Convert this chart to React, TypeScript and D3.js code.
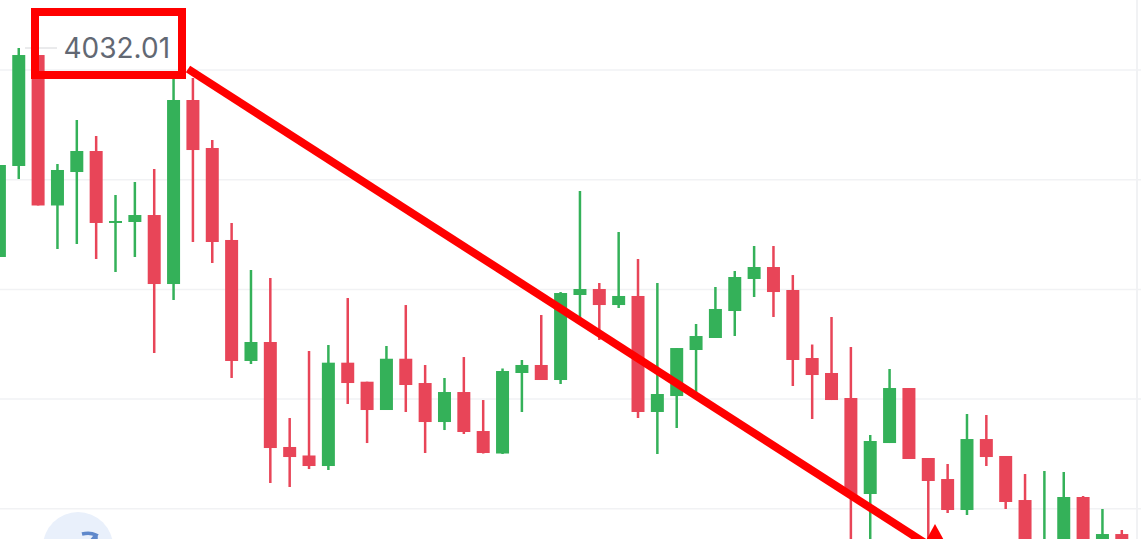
import * as d3 from "d3";
import React, { useEffect, useRef } from "react";

const opens = [
  3993.91, 4010.5, 4030.73, 4003.3, 4009.4, 4013.23, 4000.11, 4000.29, 4001.56, 3988.98,
  4022.53, 4013.78, 3997.01, 3974.95, 3978.41, 3959.27, 3957.72, 3955.8, 3974.64, 3971.17,
  3966.01, 3975.36, 3970.93, 3963.82, 3969.29, 3962.18, 3958.08, 3972.76, 3974.22, 3971.48,
  3986.98, 3988.07, 3985.15, 3986.8, 3965.65, 3968.56, 3976.95, 3979.14, 3984.06, 3989.9,
  3992.08, 3987.89, 3975.49, 3972.76, 3968.2, 3950.7, 3959.99, 3970.02, 3957.26, 3953.43,
  3947.78, 3960.72, 3957.63, 3949.6, 3936.84, 3938.66, 3950.15, 3938.66, 3943.4,
];
const closes = [
  4010.68, 4030.73, 4003.3, 4009.77, 4013.23, 4000.11, 4000.47, 4001.56, 3988.98, 4022.53,
  4013.41, 3996.64, 3974.95, 3978.41, 3959.08, 3957.44, 3955.8, 3974.64, 3970.93, 3966.01,
  3975.36, 3970.57, 3963.82, 3969.29, 3962.0, 3958.17, 3973.12, 3974.22, 3971.48, 3987.34,
  3988.07, 3985.15, 3986.8, 3965.65, 3968.93, 3977.31, 3979.5, 3984.43, 3990.26, 3992.08,
  3987.52, 3975.13, 3972.39, 3967.83, 3950.51, 3960.36, 3970.02, 3957.08, 3953.07, 3947.78,
  3960.72, 3957.44, 3949.24, 3936.84, 3941.4, 3950.15, 3938.66, 3943.4, 3938.66,
];
const highs = [
  4010.68, 4032.01, 4030.73, 4010.86, 4018.88, 4015.97, 4005.21, 4007.58, 4009.95, 4027.09,
  4026.54, 4015.24, 4000.11, 3991.54, 3990.08, 3964.55, 3976.77, 3977.86, 3986.43, 3971.17,
  3977.68, 3985.15, 3974.22, 3971.85, 3975.67, 3967.83, 3973.58, 3975.13, 3983.33, 3987.52,
  4005.94, 3989.17, 3998.46, 3993.54, 3989.17, 3977.31, 3981.69, 3988.44, 3991.35, 3995.91,
  3995.91, 3990.62, 3977.95, 3982.97, 3977.5, 3961.45, 3973.49, 3970.02, 3957.26, 3956.17,
  3965.28, 3965.1, 3957.63, 3954.34, 3954.89, 3954.71, 3950.33, 3947.96, 3944.13,
];
const lows = [
  3993.91, 4008.13, 4003.3, 3995.36, 3996.28, 3993.54, 3991.17, 3993.91, 3976.4, 3986.07,
  3996.64, 3992.81, 3971.85, 3974.4, 3952.7, 3951.97, 3955.25, 3955.07, 3967.11, 3959.99,
  3966.01, 3965.65, 3958.17, 3962.36, 3961.64, 3958.08, 3957.99, 3965.65, 3971.48, 3970.75,
  3982.42, 3978.77, 3984.61, 3964.55, 3957.99, 3962.73, 3969.11, 3979.14, 3979.5, 3986.61,
  3982.97, 3970.39, 3964.37, 3967.83, 3938.66, 3940.49, 3959.99, 3957.08, 3938.66, 3947.23,
  3946.87, 3955.8, 3947.96, 3936.84, 3935.93, 3936.84, 3938.66, 3938.66, 3938.66,
];
const gridPrices = [4028, 4008, 3988, 3968, 3948];
const lastPriceLabel = "4032.01";
const lastPrice = 4032.01;

const WIDTH = 1148;
const HEIGHT = 539;
const UP = "#34b159";
const DOWN = "#e84558";
const MARK = "#ff0000";

export default function App() {
  const ref = useRef<SVGSVGElement | null>(null);

  useEffect(() => {
    const svg = d3.select(ref.current);
    svg.selectAll("*").remove();

    const x = d3.scaleLinear().domain([0, opens.length - 1]).range([-0.6, 1121.8]);
    const y = d3.scaleLinear().domain([4028, 3948]).range([70, 508.8]);
    const bodyW = 13;

    const candles = opens.map((open, i) => ({
      i,
      open,
      close: closes[i],
      high: highs[i],
      low: lows[i],
    }));
    const colour = (d: { open: number; close: number }) => (d.close >= d.open ? UP : DOWN);

    // grid
    svg
      .append("g")
      .selectAll("line")
      .data(gridPrices)
      .enter()
      .append("line")
      .attr("x1", 0)
      .attr("x2", 1141)
      .attr("y1", (d) => y(d))
      .attr("y2", (d) => y(d))
      .attr("stroke", "#f1f2f4")
      .attr("stroke-width", 1.5);

    svg
      .append("line")
      .attr("x1", 1137)
      .attr("x2", 1137)
      .attr("y1", 0)
      .attr("y2", HEIGHT)
      .attr("stroke", "#f1f2f4")
      .attr("stroke-width", 2);

    // floating button at the bottom left
    svg.append("circle").attr("cx", 78).attr("cy", 547).attr("r", 35).attr("fill", "#e9f0fb");
    svg
      .append("path")
      .attr("d", "M82 534 Q90 532 96 535 L84 550 M96 535 Q96 540 96 546")
      .attr("fill", "none")
      .attr("stroke", "#5f88cb")
      .attr("stroke-width", 3.5);

    // wicks
    svg
      .append("g")
      .selectAll("line")
      .data(candles)
      .enter()
      .append("line")
      .attr("x1", (d) => x(d.i))
      .attr("x2", (d) => x(d.i))
      .attr("y1", (d) => y(d.high))
      .attr("y2", (d) => y(d.low))
      .attr("stroke", colour)
      .attr("stroke-width", 2.5);

    // bodies
    svg
      .append("g")
      .selectAll("rect")
      .data(candles)
      .enter()
      .append("rect")
      .attr("x", (d) => x(d.i) - bodyW / 2)
      .attr("y", (d) => y(Math.max(d.open, d.close)))
      .attr("width", bodyW)
      .attr("height", (d) => Math.max(1.5, Math.abs(y(d.open) - y(d.close))))
      .attr("fill", colour);

    // last price
    svg
      .append("line")
      .attr("x1", 25)
      .attr("x2", 57)
      .attr("y1", y(lastPrice))
      .attr("y2", y(lastPrice))
      .attr("stroke", "#e3e4e6")
      .attr("stroke-width", 1.5);
    svg
      .append("text")
      .attr("x", 63.5)
      .attr("y", 58)
      .attr("font-family", "Inter")
      .attr("font-size", 28)
      .attr("fill", "#626873")
      .text(lastPriceLabel);

    // red annotation on top
    svg
      .append("rect")
      .attr("x", 35)
      .attr("y", 12)
      .attr("width", 147)
      .attr("height", 63)
      .attr("fill", "none")
      .attr("stroke", MARK)
      .attr("stroke-width", 8);
    svg
      .append("line")
      .attr("x1", 188)
      .attr("y1", 69)
      .attr("x2", 925)
      .attr("y2", 543)
      .attr("stroke", MARK)
      .attr("stroke-width", 8);
    svg
      .append("path")
      .attr("d", "M935 524 L951 553 L919 553 Z")
      .attr("fill", MARK);
  }, []);

  return (
    <svg
      ref={ref}
      width={WIDTH}
      height={HEIGHT}
      viewBox={`0 0 ${WIDTH} ${HEIGHT}`}
      style={{ position: "absolute", left: 0, top: 0, background: "#fff" }}
    />
  );
}
